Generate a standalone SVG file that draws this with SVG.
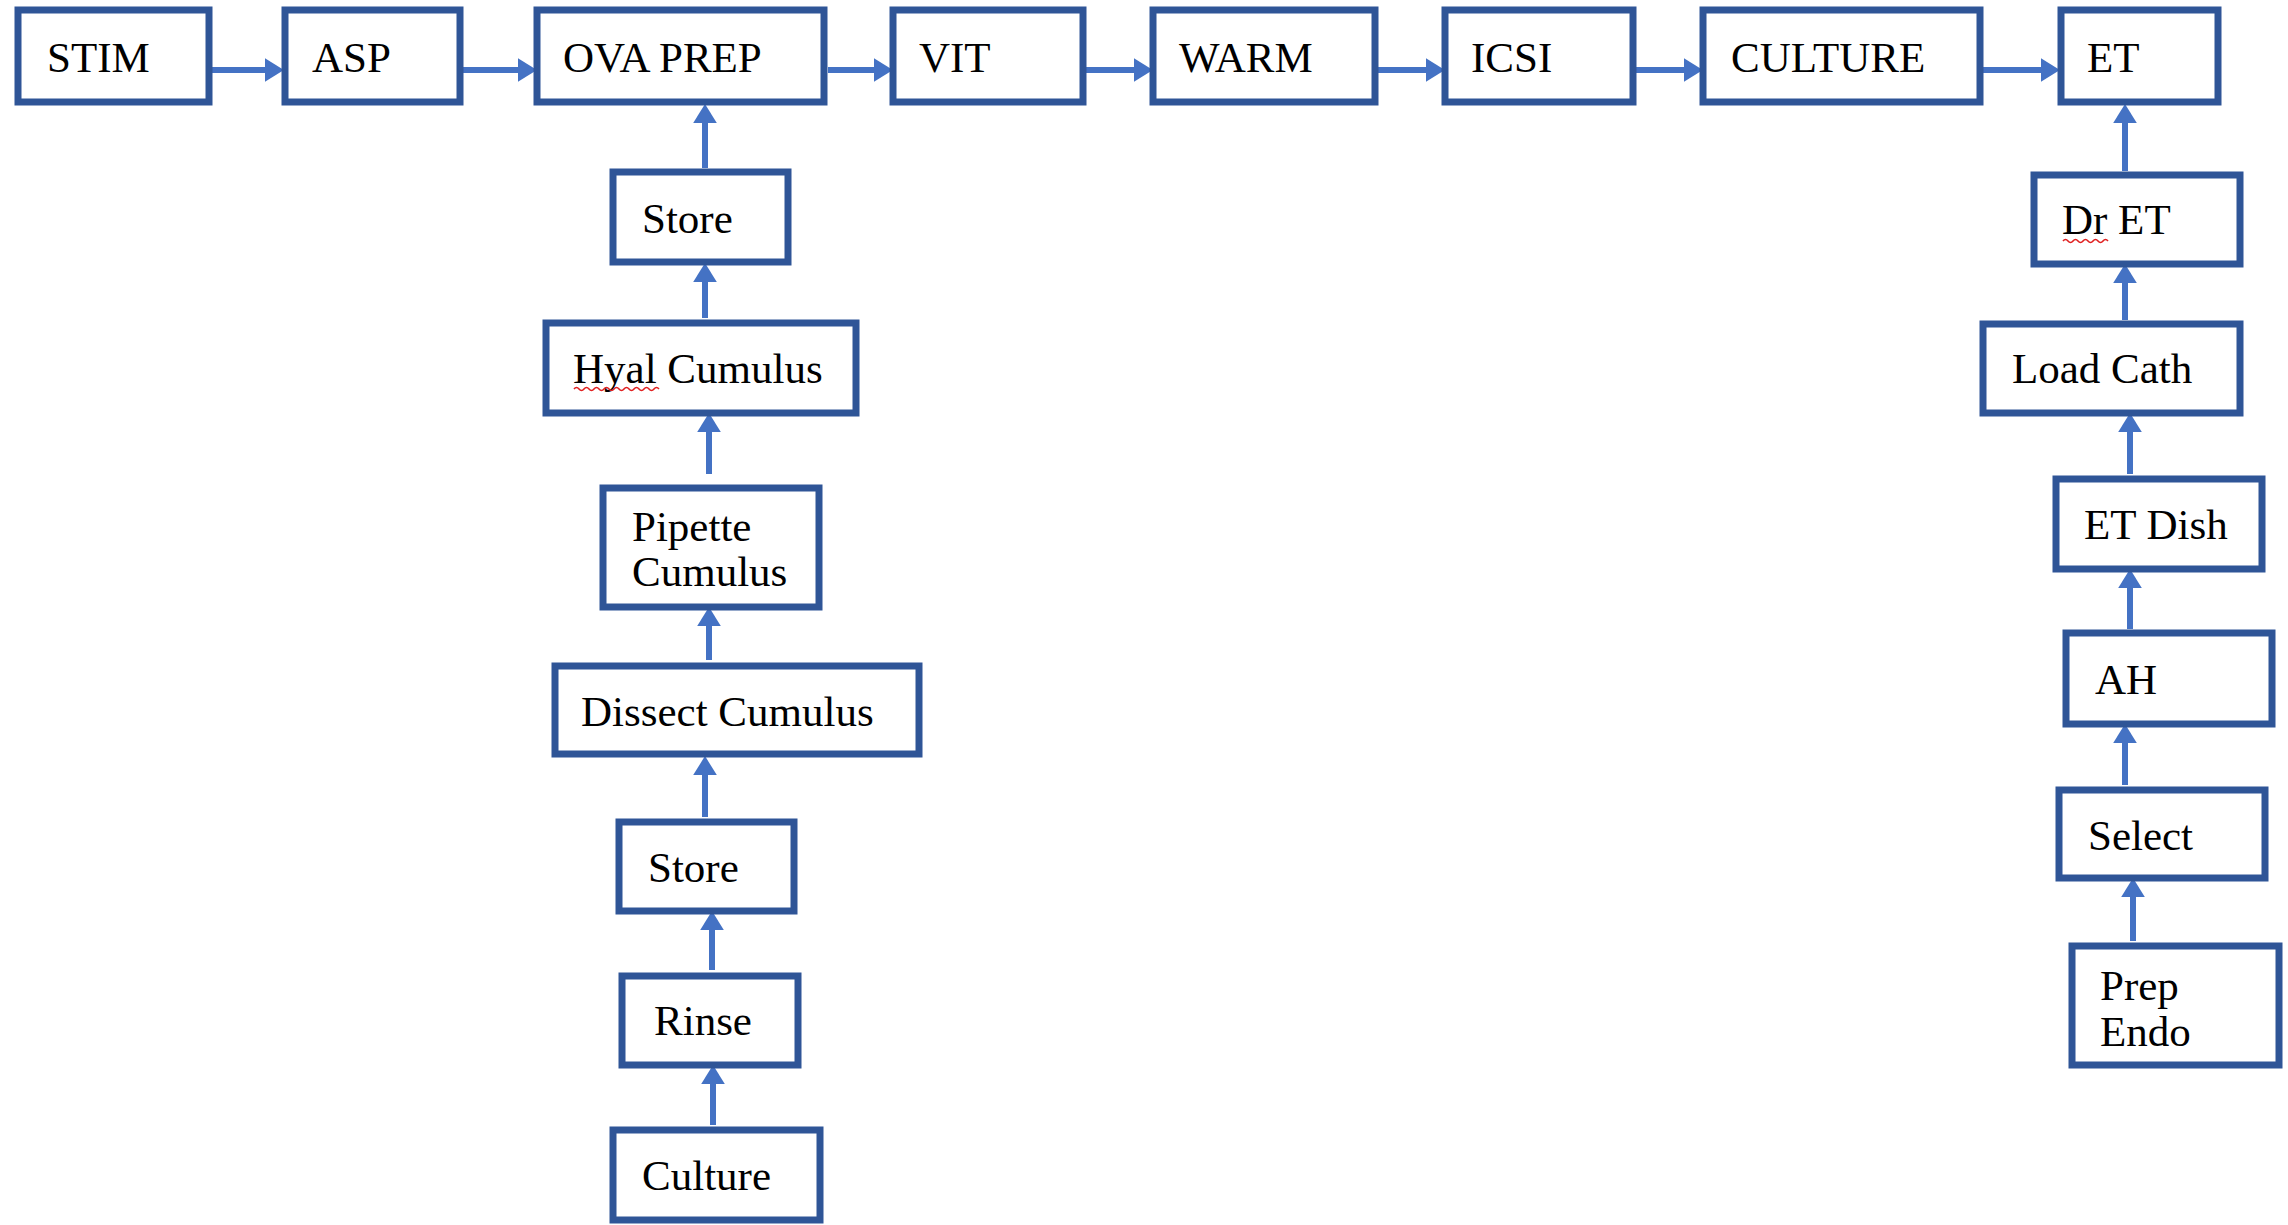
<svg xmlns="http://www.w3.org/2000/svg" width="2288" height="1225" viewBox="0 0 2288 1225">
<style>
.box{fill:#ffffff;stroke:#2F5597;stroke-width:7}
.lbl{font-family:"Liberation Serif","Times New Roman",serif;font-size:43px;fill:#000000}
.arr{stroke:#4472C4;stroke-width:6;fill:none}
.sq{stroke:#E02020;stroke-width:1.6;fill:none}
</style>
<defs>
<marker id="ah" markerUnits="userSpaceOnUse" markerWidth="22" markerHeight="26" refX="0" refY="0" viewBox="0 -11 17 22" orient="auto" overflow="visible">
<path d="M0,-10 L16,0 L0,10 z" fill="#4472C4"/>
</marker>
</defs>
<rect width="2288" height="1225" fill="#ffffff"/>
<g id="connectors">
<line class="arr" x1="212" y1="70" x2="265" y2="70" marker-end="url(#ah)"/>
<line class="arr" x1="463" y1="70" x2="518" y2="70" marker-end="url(#ah)"/>
<line class="arr" x1="828" y1="70" x2="874" y2="70" marker-end="url(#ah)"/>
<line class="arr" x1="1086" y1="70" x2="1134" y2="70" marker-end="url(#ah)"/>
<line class="arr" x1="1378" y1="70" x2="1426" y2="70" marker-end="url(#ah)"/>
<line class="arr" x1="1636" y1="70" x2="1684" y2="70" marker-end="url(#ah)"/>
<line class="arr" x1="1983" y1="70" x2="2041" y2="70" marker-end="url(#ah)"/>
<line class="arr" x1="705" y1="168" x2="705" y2="123" marker-end="url(#ah)"/>
<line class="arr" x1="705" y1="318" x2="705" y2="282" marker-end="url(#ah)"/>
<line class="arr" x1="709" y1="474" x2="709" y2="432" marker-end="url(#ah)"/>
<line class="arr" x1="709" y1="660" x2="709" y2="626" marker-end="url(#ah)"/>
<line class="arr" x1="705" y1="817" x2="705" y2="775" marker-end="url(#ah)"/>
<line class="arr" x1="712" y1="970" x2="712" y2="930" marker-end="url(#ah)"/>
<line class="arr" x1="713" y1="1125" x2="713" y2="1084" marker-end="url(#ah)"/>
<line class="arr" x1="2125" y1="171" x2="2125" y2="123" marker-end="url(#ah)"/>
<line class="arr" x1="2125" y1="320" x2="2125" y2="283" marker-end="url(#ah)"/>
<line class="arr" x1="2130" y1="474" x2="2130" y2="432" marker-end="url(#ah)"/>
<line class="arr" x1="2130" y1="629" x2="2130" y2="588" marker-end="url(#ah)"/>
<line class="arr" x1="2125" y1="785" x2="2125" y2="743" marker-end="url(#ah)"/>
<line class="arr" x1="2133" y1="941" x2="2133" y2="897" marker-end="url(#ah)"/>
</g>
<g id="n-stim"><rect class="box" x="18" y="10" width="191" height="92"/><text class="lbl" x="47" y="72">STIM</text></g>
<g id="n-asp"><rect class="box" x="285" y="10" width="175" height="92"/><text class="lbl" x="312" y="72">ASP</text></g>
<g id="n-ovaprep"><rect class="box" x="537" y="10" width="287" height="92"/><text class="lbl" x="563" y="72">OVA PREP</text></g>
<g id="n-vit"><rect class="box" x="893" y="10" width="190" height="92"/><text class="lbl" x="919" y="72">VIT</text></g>
<g id="n-warm"><rect class="box" x="1153" y="10" width="222" height="92"/><text class="lbl" x="1179" y="72">WARM</text></g>
<g id="n-icsi"><rect class="box" x="1445" y="10" width="188" height="92"/><text class="lbl" x="1471" y="72">ICSI</text></g>
<g id="n-culture-top"><rect class="box" x="1703" y="10" width="277" height="92"/><text class="lbl" x="1731" y="72">CULTURE</text></g>
<g id="n-et"><rect class="box" x="2061" y="10" width="157" height="92"/><text class="lbl" x="2087" y="72">ET</text></g>

<g id="n-store1"><rect class="box" x="613" y="172" width="175" height="90"/><text class="lbl" x="642" y="233">Store</text></g>
<g id="n-hyal"><rect class="box" x="546" y="323" width="310" height="90"/><text class="lbl" x="573" y="383">Hyal Cumulus</text><path class="sq" d="M574,389 q2.5,-3 5,0 t5,0 t5,0 t5,0 t5,0 t5,0 t5,0 t5,0 t5,0 t5,0 t5,0 t5,0 t5,0 t5,0 t5,0 t5,0 t5,0"/></g>
<g id="n-pipette"><rect class="box" x="603" y="488" width="216" height="119"/><text class="lbl" x="632" y="541">Pipette</text><text class="lbl" x="632" y="586">Cumulus</text></g>
<g id="n-dissect"><rect class="box" x="555" y="666" width="364" height="88"/><text class="lbl" x="581" y="726">Dissect Cumulus</text></g>
<g id="n-store2"><rect class="box" x="619" y="822" width="175" height="89"/><text class="lbl" x="648" y="882">Store</text></g>
<g id="n-rinse"><rect class="box" x="622" y="976" width="176" height="89"/><text class="lbl" x="654" y="1035">Rinse</text></g>
<g id="n-culture"><rect class="box" x="613" y="1130" width="207" height="90"/><text class="lbl" x="642" y="1190">Culture</text></g>

<g id="n-dret"><rect class="box" x="2034" y="175" width="206" height="89"/><text class="lbl" x="2062" y="234">Dr ET</text><path class="sq" d="M2063,241 q2.5,-3 5,0 t5,0 t5,0 t5,0 t5,0 t5,0 t5,0 t5,0 t5,0"/></g>
<g id="n-loadcath"><rect class="box" x="1983" y="324" width="257" height="89"/><text class="lbl" x="2012" y="383">Load Cath</text></g>
<g id="n-etdish"><rect class="box" x="2056" y="479" width="206" height="90"/><text class="lbl" x="2084" y="539">ET Dish</text></g>
<g id="n-ah"><rect class="box" x="2066" y="633" width="206" height="91"/><text class="lbl" x="2095" y="694">AH</text></g>
<g id="n-select"><rect class="box" x="2059" y="790" width="206" height="88"/><text class="lbl" x="2088" y="850">Select</text></g>
<g id="n-prependo"><rect class="box" x="2072" y="946" width="207" height="119"/><text class="lbl" x="2100" y="1000">Prep</text><text class="lbl" x="2100" y="1046">Endo</text></g>
</svg>
